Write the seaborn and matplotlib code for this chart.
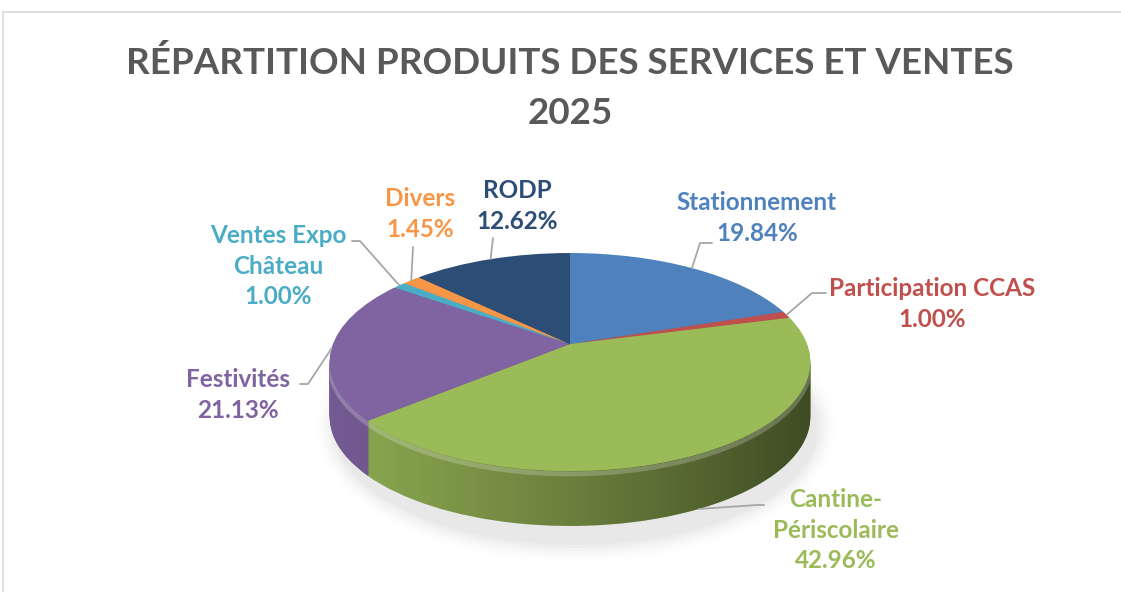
import numpy as np
import matplotlib
matplotlib.use("Agg")
import matplotlib.pyplot as plt
import seaborn as sns
import matplotlib.colors as mcolors
from matplotlib.patches import Ellipse, PathPatch
from matplotlib.collections import PolyCollection
from matplotlib.path import Path
from matplotlib.lines import Line2D
from matplotlib.transforms import Transform

# ---------------- data ----------------
categories = ["Stationnement", "Participation CCAS", "Cantine-\nPériscolaire",
              "Festivités", "Ventes Expo\nChâteau", "Divers", "RODP"]
values = [19.84, 1.00, 42.96, 21.13, 1.00, 1.45, 12.62]
colors = ["#4F81BD", "#C0504D", "#9BBB59", "#8064A2", "#4BACC6", "#F79646", "#2C4D75"]
title = "RÉPARTITION PRODUITS DES SERVICES ET VENTES\n2025"

# label layout (pixel positions of label block centres and leader elbows)
label_pos = [(757, 218), (932, 304), (836, 530), (238, 395), (278, 266), (420, 214), (517, 206)]
elbows = [[(700, 243), (712, 243)], [(812, 293), (826, 293)], [(757, 505), (764, 505)],
          [(308, 384), (300, 384)], [(360, 241), (352, 241)], [(413, 247)], [(493, 238)]]
edge_side = [False, False, True, False, False, False, False]

sns.set_theme(style="white")
plt.rcParams['font.family'] = ['Lato', 'DejaVu Sans']

W, H = 1121, 592
fig = plt.figure(figsize=(W / 100, H / 100), dpi=100)
fig.patch.set_facecolor("white")

# perspective geometry (pixels)
VX, VY = 570, 344     # pie vertex on screen
RX, RY = 237, 106     # horizontal / vertical scale
P = 0.165             # perspective strength
DEPTH = 55


class Persp(Transform):
    """Map a unit pie (u, v) to tilted perspective pixel coordinates (y up)."""
    input_dims = output_dims = 2
    is_separable = False
    has_inverse = False

    def __init__(self, dy=0.0):
        super().__init__()
        self.dy = dy

    def transform_non_affine(self, values):
        values = np.asarray(values, dtype=float)
        u, v = values[:, 0], values[:, 1]
        s = 1.0 / (1.0 + P * v)
        X = VX + RX * u * s
        Y = (H - VY - self.dy) + RY * v * s
        return np.column_stack([X, Y])


def proj(u, v, dy=0.0):
    return Persp(dy).transform_non_affine(np.column_stack([np.atleast_1d(u), np.atleast_1d(v)]))


ax = fig.add_axes([0, 0, 1, 1])

# soft shadow
for i, a in enumerate(np.linspace(0.04, 0.008, 7)):
    ax.add_patch(Ellipse((VX + 6, H - (VY + 22 + DEPTH + 6)), 484 + 6 * i,
                         2 * (118 + 3 * i), facecolor="#808080", alpha=a,
                         edgecolor="none", zorder=0.5))

# side layers
side_cols = [tuple(np.array(mcolors.to_rgb(c)) * 0.9) for c in colors]
for d in np.arange(DEPTH, 0, -1.0):
    ws, _ = ax.pie(values, colors=side_cols, startangle=90, counterclock=False, radius=1,
                   center=(0, 0), wedgeprops=dict(linewidth=0), frame=False)
    tr = Persp(d) + ax.transData
    for w in ws:
        w.set_transform(tr)

# side band clip path
t = np.linspace(0, 2 * np.pi, 3000)
pts = proj(np.cos(t), np.sin(t))
tl, tr_ = t[np.argmin(pts[:, 0])], t[np.argmax(pts[:, 0])]
tf = np.linspace(tl, tr_, 400)
top_arc = proj(np.cos(tf), np.sin(tf))
bot_arc = proj(np.cos(tf[::-1]), np.sin(tf[::-1]), DEPTH)
band_path = Path(np.vstack([top_arc, bot_arc, top_arc[:1]]), closed=True)
band = PathPatch(band_path, facecolor="none", edgecolor="none", zorder=0.1)
ax.add_patch(band)

# horizontal shading gradient on the side (1-px strips)
x0, x1 = top_arc[:, 0].min(), top_arc[:, 0].max()
xs_px = np.arange(np.floor(x0), np.ceil(x1) + 1)
ylo, yhi = bot_arc[:, 1].min() - 2, top_arc[:, 1].max() + 2
polys, fcs = [], []
for xa in xs_px:
    f = np.clip((xa + 0.5 - x0) / (x1 - x0), 0, 1)
    polys.append([(xa, ylo), (xa + 1, ylo), (xa + 1, yhi), (xa, yhi)])
    fcs.append((0, 0, 0, 0.55 * f ** 1.2))
pc = PolyCollection(polys, facecolors=fcs, edgecolors="none", antialiased=False, zorder=1.5)
ax.add_collection(pc)
pc.set_clip_path(band)

# subtle rim highlight on the upper edge of the side
rim = ax.plot(top_arc[:, 0], top_arc[:, 1] - 3.0, color="white", alpha=0.22, lw=3.5,
              zorder=1.6, solid_capstyle="butt")[0]
rim.set_clip_path(band)

# top face
wedges, _ = ax.pie(values, colors=colors, startangle=90, counterclock=False, radius=1,
                   center=(0, 0), wedgeprops=dict(linewidth=0), frame=False)
trt = Persp(0) + ax.transData
for w in wedges:
    w.set_transform(trt)
    w.set_zorder(2)

ax.set_aspect("auto")
ax.set_xlim(0, W)
ax.set_ylim(0, H)
ax.axis("off")

# labels and leaders
for w, cat, val, col, pos, elb, side in zip(wedges, categories, values, colors,
                                             label_pos, elbows, edge_side):
    mid = np.deg2rad((w.theta1 + w.theta2) / 2)
    s = proj(np.cos(mid), np.sin(mid), DEPTH if side else 0)[0]
    start = (s[0], H - s[1])
    pts_l = [start] + elb
    xs = [p[0] / W for p in pts_l]
    ys = [1 - p[1] / H for p in pts_l]
    fig.add_artist(Line2D(xs, ys, color="#a6a6a6", lw=1.3, transform=fig.transFigure, zorder=5))
    fig.text(pos[0] / W, 1 - pos[1] / H, f"{cat}\n{val:.2f}%", ha="center", va="center",
             fontsize=17.5, fontweight="bold", color=col, linespacing=1.42)

fig.text(570 / W, 1 - 88 / H, title, ha="center", va="center", fontsize=26.5,
         fontweight="bold", color="#595959", linespacing=1.65)

# chart frame
fig.add_artist(Line2D([3 / W, 1.0], [1 - 12 / H, 1 - 12 / H], color="#d9d9d9", lw=1.2,
                      transform=fig.transFigure))
fig.add_artist(Line2D([3 / W, 3 / W], [1 - 12 / H, 0], color="#d9d9d9", lw=1.2,
                      transform=fig.transFigure))

fig.savefig("out.png", dpi=100, facecolor="white")
